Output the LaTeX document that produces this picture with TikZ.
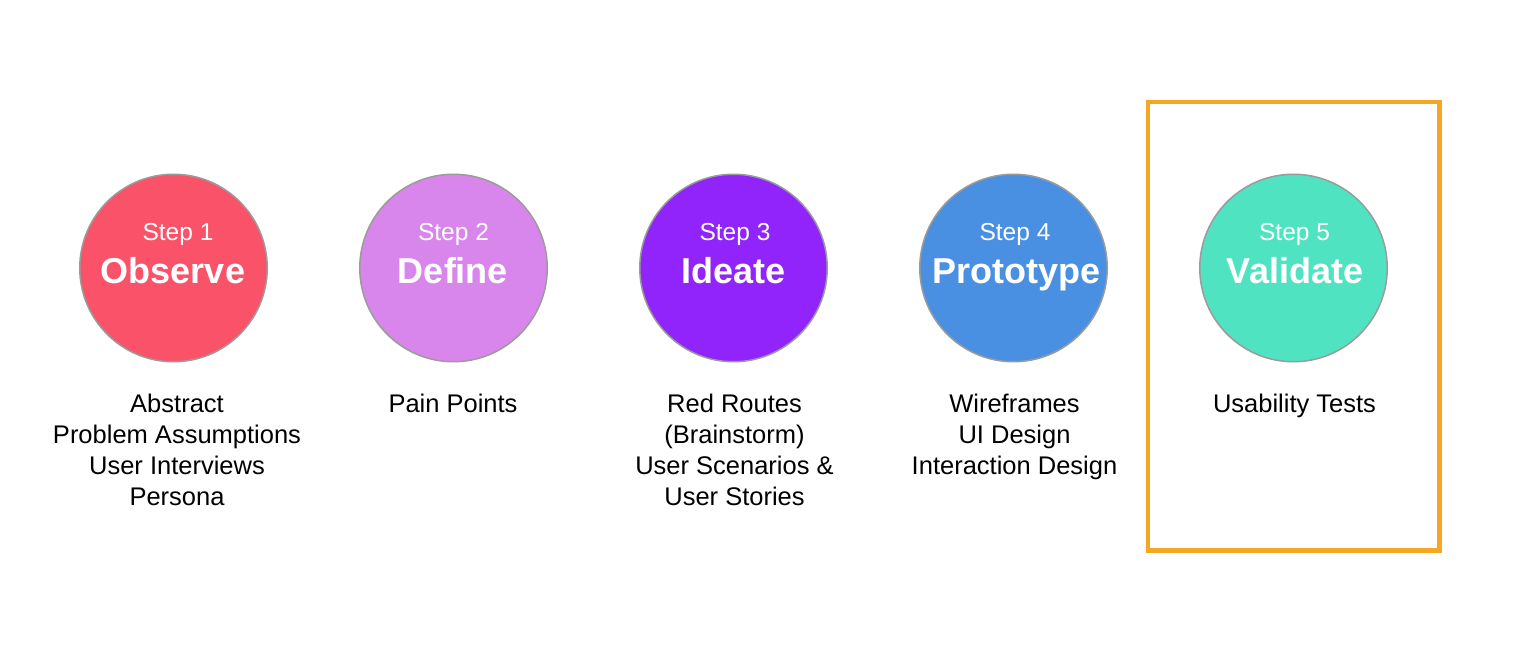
\documentclass[tikz,border=0pt]{standalone}
\usepackage{fontspec}
\setmainfont{Liberation Sans}
\definecolor{observeC}{HTML}{FA5268}
\definecolor{defineC}{HTML}{D986EC}
\definecolor{ideateC}{HTML}{9024FB}
\definecolor{protoC}{HTML}{4A90E2}
\definecolor{validC}{HTML}{50E3C2}
\definecolor{ringC}{HTML}{9B9B9B}
\definecolor{frameC}{HTML}{F5A623}
\begin{document}
\begin{tikzpicture}[x=1pt,y=-1pt,
  stepcircle/.style={circle,draw=ringC,line width=1.5pt,minimum size=187.5pt,inner sep=0pt},
  steplabel/.style={text=white,anchor=base,inner sep=0pt,font=\fontsize{24.5}{29}\selectfont},
  steptitle/.style={text=white,anchor=base,inner sep=0pt,font=\fontsize{36}{42}\selectfont\bfseries},
  stepnotes/.style={text=black,anchor=north,inner sep=0pt,align=center,font=\fontsize{25.5}{31}\selectfont},
  highlight/.style={draw=frameC,line width=4.5pt}]
\useasboundingbox (0,0) rectangle (1526,652);

% the five circles
\node[stepcircle,fill=observeC] (c1) at (173.5,268) {};
\node[stepcircle,fill=defineC]  (c2) at (453.5,268) {};
\node[stepcircle,fill=ideateC]  (c3) at (733.5,268) {};
\node[stepcircle,fill=protoC]   (c4) at (1013.5,268) {};
\node[stepcircle,fill=validC]   (c5) at (1293.5,268) {};

% step numbers and names
\node[steplabel] (s1) at (178,240.5) {Step 1};
\node[steptitle] (t1) at (173,284) {Observe};
\node[steplabel] (s2) at (453.5,240.5) {Step 2};
\node[steptitle] (t2) at (453,284) {Define};
\node[steplabel] (s3) at (735,240.5) {Step 3};
\node[steptitle] (t3) at (733.5,284) {Ideate};
\node[steplabel] (s4) at (1015,240.5) {Step 4};
\node[steptitle] (t4) at (1016.5,284) {Prototype};
\node[steplabel] (s5) at (1294.5,240.5) {Step 5};
\node[steptitle] (t5) at (1295,284) {Validate};

% activities below each step
\node[stepnotes] (n1) at (177,394) {Abstract\\Problem Assumptions\\User Interviews\\Persona};
\node[stepnotes] (n2) at (453,394) {Pain Points};
\node[stepnotes] (n3) at (734.5,394) {Red Routes\\(Brainstorm)\\User Scenarios \&\\User Stories};
\node[stepnotes] (n4) at (1014.5,394) {Wireframes\\UI Design\\Interaction Design};
\node[stepnotes] (n5) at (1294.5,394) {Usability Tests};

% frame around the last step
\draw[highlight] (1148,102) rectangle (1439.5,550.5);
\end{tikzpicture}
\end{document}
